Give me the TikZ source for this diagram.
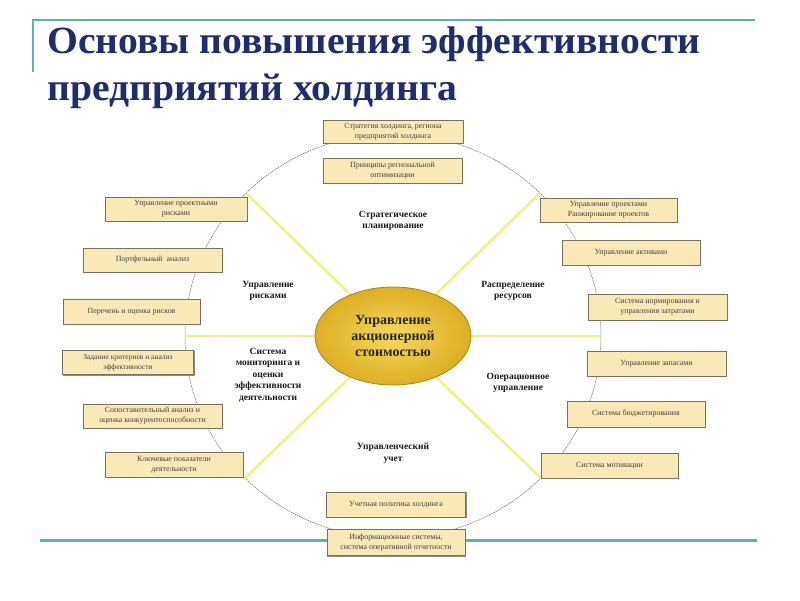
\documentclass[tikz,border=0pt]{standalone}
\usepackage{fontspec}
\setmainfont{Liberation Serif}
\usetikzlibrary{shapes.geometric}
\definecolor{titleblue}{HTML}{1F2C6E}
\definecolor{teal1}{HTML}{62AEB0}
\definecolor{boxfill}{HTML}{F8E9B6}
\definecolor{boxline}{HTML}{7A705E}
\definecolor{boxtext}{HTML}{454040}
\definecolor{spokecol}{HTML}{F1F08A}
\definecolor{goldin}{HTML}{F6D95E}
\definecolor{goldout}{HTML}{DDAE22}
\definecolor{goldline}{HTML}{A8861E}
\begin{document}
\begin{tikzpicture}[x=1pt,y=-1pt,
  boxnode/.style={draw=boxline, fill=boxfill, line width=0.7pt, inner sep=1pt,
    align=center, text=boxtext, font=\fontsize{7.9}{10}\selectfont,
    preaction={draw=black!45, line width=0.9pt, transform canvas={xshift=0.9pt,yshift=-0.9pt}}},
  seclabel/.style={align=center, font=\fontsize{9.5}{11.5}\selectfont\bfseries, text=black!90},
  spoke/.style={draw=spokecol, line width=2.6pt},
  circ/.style={draw=black!60, line width=0.5pt, dash pattern=on 1.6pt off 0.8pt},
  titletext/.style={anchor=base west, inner sep=0, text=titleblue, font=\fontsize{38.5}{40}\selectfont\bfseries, xscale=1.03},
  teal/.style={draw=teal1, line width=1.6pt}]
\useasboundingbox (0,0) rectangle (800,600);
\fill[white] (0,0) rectangle (800,600);

% title decoration
\coordinate (tA) at (33,72);
\coordinate (tB) at (33,20);
\coordinate (tC) at (755,20);
\draw[teal, line width=1.4pt] (tA) -- (tB) -- (tC);
\node[titletext] (t1) at (47,53) {Основы повышения эффективности};
\node[titletext] (t2) at (47,100) {предприятий холдинга};

% bottom line
\coordinate (bL) at (40,540);
\coordinate (bR) at (757,540);
\draw[teal, line width=3pt] (bL) -- (bR);

% big circle and spokes
\coordinate (c0) at (393,336);
\draw[circ] (c0) ellipse [x radius=208, y radius=202];
\coordinate (pNW) at (246,193);
\coordinate (pNE) at (540,193);
\coordinate (pW) at (185,336);
\coordinate (pE) at (601,336);
\coordinate (pSW) at (244,479);
\coordinate (pSE) at (542,479);
\foreach \p in {pNW,pNE,pW,pE,pSW,pSE} \draw[spoke] (c0) -- (\p);

% center
\node[ellipse, minimum width=156pt, minimum height=98pt, inner color=goldin, outer color=goldout,
  draw=goldline, line width=0.8pt, align=center, inner sep=0,
  font=\fontsize{14}{16}\selectfont\bfseries, text=black!85] (ctr) at (c0) {Управление\\акционерной\\стоимостью};

% sector labels
\node[seclabel] (s1) at (393,221) {Стратегическое\\планирование};
\node[seclabel] (s2) at (268,291) {Управление\\рисками};
\node[seclabel] (s3) at (513,291) {Распределение\\ресурсов};
\node[seclabel] (s4) at (268,375) {Система\\мониторинга и\\оценки\\эффективности\\деятельности};
\node[seclabel] (s5) at (518,383) {Операционное\\управление};
\node[seclabel] (s6) at (393,453) {Управленческий\\учет};

% boxes top
\node[boxnode, minimum width=140pt, minimum height=23pt] (b1) at (393,131.5) {Стратегия холдинга, региона\\предприятий холдинга};
\node[boxnode, minimum width=139pt, minimum height=25pt] (b2) at (392.5,170.5) {Принципы региональной\\оптимизации};
% left
\node[boxnode, minimum width=142pt, minimum height=24pt] (b3) at (176,209) {Управление проектными\\рисками};
\node[boxnode, minimum width=139pt, minimum height=24pt] (b4) at (152.5,260) {Портфельный\ \ анализ};
\node[boxnode, minimum width=137pt, minimum height=25pt] (b5) at (131.5,311.5) {Перечень и оценка рисков};
\node[boxnode, minimum width=131pt, minimum height=24pt, font=\fontsize{7.5}{10}\selectfont] (b6) at (128,362.5) {Задание критериев и анализ\\эффективности};
\node[boxnode, minimum width=139pt, minimum height=24pt] (b7) at (152.5,416) {Сопоставительный анализ и\\оценка конкурентоспособности};
\node[boxnode, minimum width=138pt, minimum height=25pt] (b8) at (174,464.5) {Ключевые показатели\\деятельности};
% right
\node[boxnode, minimum width=137pt, minimum height=24pt] (b9) at (608.5,210) {Управление проектами\\Ранжирование проектов};
\node[boxnode, minimum width=138pt, minimum height=25pt] (b10) at (631,252.5) {Управление активами};
\node[boxnode, minimum width=139pt, minimum height=26pt] (b11) at (657.5,307) {Система нормирования и\\управления затратами};
\node[boxnode, minimum width=139pt, minimum height=25pt] (b12) at (656.5,363.5) {Управление запасами};
\node[boxnode, minimum width=138pt, minimum height=26pt] (b13) at (636,414) {Система бюджетирования};
\node[boxnode, minimum width=137pt, minimum height=25pt] (b14) at (609.5,465.5) {Система мотивации};
% bottom
\node[boxnode, minimum width=139pt, minimum height=25pt] (b15) at (396,504.5) {Учетная политика холдинга};
\node[boxnode, minimum width=138pt, minimum height=26pt] (b16) at (396,542.5) {Информационные системы,\\система оперативной отчетности};
\end{tikzpicture}
\end{document}
